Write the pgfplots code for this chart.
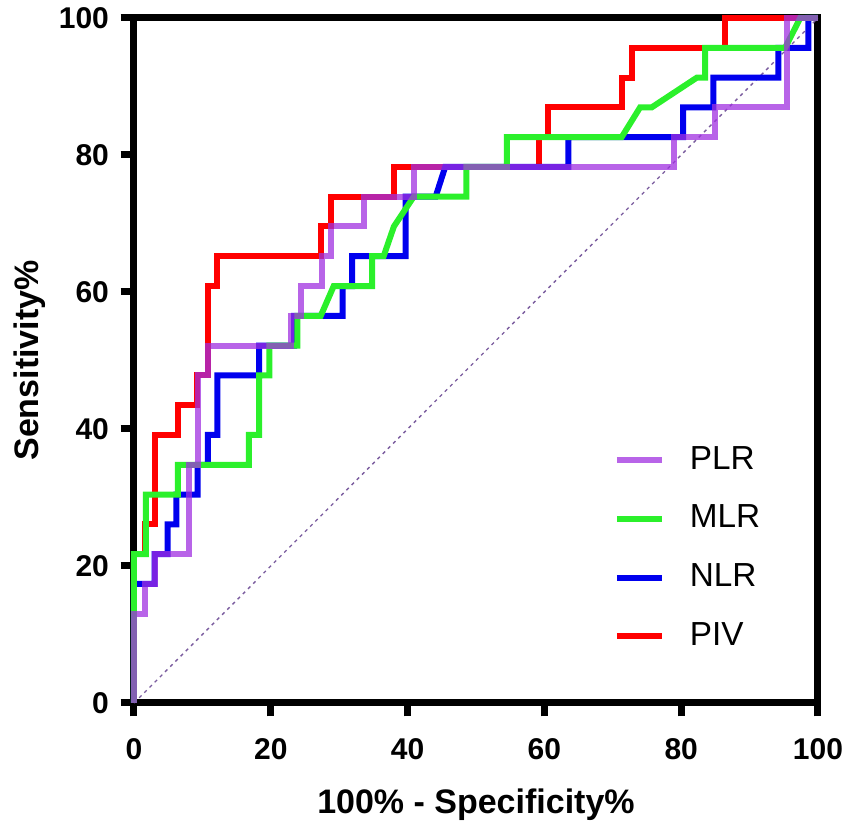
\documentclass[border=0pt]{standalone}
\usepackage{fontspec}
\setmainfont{Liberation Sans}
\usepackage{pgfplots}
\pgfplotsset{compat=1.18}
\definecolor{cPLR}{HTML}{A030E0}
\definecolor{cMLR}{HTML}{2BF02B}
\definecolor{cNLR}{HTML}{0000EE}
\definecolor{cPIV}{HTML}{FF0000}
\definecolor{cDiag}{HTML}{7A5C9E}
\begin{document}
\begin{tikzpicture}
\begin{axis}[
  scale only axis,
  width=205.2pt, height=205.5pt,
  xmin=0, xmax=100, ymin=0, ymax=100,
  xtick={0,20,...,100}, ytick={0,20,...,100},
  xtick pos=bottom, ytick pos=left,
  tick align=outside,
  major tick length=4pt,
  every tick/.style={black, line width=2.1pt},
  axis line style={black, line width=2.1pt},
  /pgf/number format/assume math mode=true,
  tick label style={font=\bfseries\fontsize{9}{10}\selectfont},
  xticklabel style={yshift=-3pt},
  label style={font=\bfseries\fontsize{10.2}{12}\selectfont},
  xlabel={100\% - Specificity\%},
  ylabel={Sensitivity\%},
  xlabel style={yshift=-2pt},
  ylabel style={yshift=-3pt},
  clip=false,
  reverse legend,
  legend cell align=left,
  legend style={at={(rel axis cs:0.686,0.395)}, anchor=north west, draw=none, fill=none,
    font=\fontsize{10}{12}\selectfont, row sep=5.2pt,
    /tikz/every odd column/.append style={column sep=5.5pt}},
  legend image code/.code={\draw[#1, line width=1.8pt] (0pt,0pt) -- (13.5pt,0pt);},
]
\addplot[cDiag, line width=0.4pt, dash pattern=on 1pt off 1.2pt, forget plot] coordinates {(0,0) (100,100)};
\coordinate (bl) at (axis cs:-19.59,-18.54);
\coordinate (tr) at (axis cs:104.68,102.63);

\addplot[cPIV, line width=1.8pt, line join=miter] coordinates {
(0,0) (0,21.74) (1.6,21.74) (1.6,26.09) (3.0,26.09) (3.0,39.13) (6.4,39.13) (6.4,43.48)
(9.2,43.48) (9.2,47.83) (10.8,47.83) (10.8,60.87) (12.2,60.87) (12.2,65.22) (27.3,65.22)
(27.3,69.57) (28.8,69.57) (28.8,73.91) (38.0,73.91) (38.0,78.26) (59.2,78.26) (59.2,82.61)
(60.6,82.61) (60.6,86.96) (71.3,86.96) (71.3,91.30) (72.8,91.30) (72.8,95.65) (86.4,95.65)
(86.4,100) (100,100)};
\addlegendentry{PIV}

\addplot[cNLR, line width=1.8pt, line join=miter] coordinates {
(0,0) (0,17.39) (3.0,17.39) (3.0,21.74) (4.9,21.74) (4.9,26.09) (6.2,26.09) (6.2,30.43)
(9.3,30.43) (9.3,34.78) (10.8,34.78) (10.8,39.13) (12.2,39.13) (12.2,47.83) (18.3,47.83)
(18.3,52.17) (23.4,52.17) (23.4,56.52) (30.5,56.52) (30.5,60.87) (31.9,60.87) (31.9,65.22)
(39.7,65.22) (39.7,73.91) (44.1,73.91) (45.5,78.26) (63.5,78.26) (63.5,82.61) (80.3,82.61)
(80.3,86.96) (84.7,86.96) (84.7,91.30) (94.2,91.30) (94.2,95.65) (98.6,95.65) (98.6,100) (100,100)};
\addlegendentry{NLR}

\addplot[cMLR, line width=1.8pt, line join=miter] coordinates {
(0,0) (0,21.74) (1.75,21.74) (1.75,30.43) (6.4,30.43) (6.4,34.78) (16.8,34.78) (16.8,39.13)
(18.3,39.13) (18.3,47.83) (19.8,47.83) (19.8,52.17) (23.9,52.17) (23.9,56.52) (27.3,56.52)
(29.2,60.87) (34.8,60.87) (34.8,65.22) (36.5,65.22) (38.0,69.57) (40.9,73.91) (48.6,73.91)
(48.6,78.26) (54.5,78.26) (54.5,82.61) (71.3,82.61) (74.0,86.96) (75.7,86.96) (82.3,91.30)
(83.5,91.30) (83.5,95.65) (95.2,95.65) (97.4,100) (100,100)};
\addlegendentry{MLR}

\addplot[cPLR, opacity=0.75, line width=1.8pt, line join=miter] coordinates {
(0,0) (0,13.04) (1.6,13.04) (1.6,17.39) (3.0,17.39) (3.0,21.74) (8.0,21.74) (8.0,34.78)
(9.3,34.78) (9.3,47.83) (10.8,47.83) (10.8,52.17) (22.9,52.17) (22.9,56.52) (24.4,56.52)
(24.4,60.87) (27.5,60.87) (27.5,65.22) (28.8,65.22) (28.8,69.57) (33.6,69.57) (33.6,73.91)
(40.9,73.91) (40.9,78.26) (78.9,78.26) (78.9,82.61) (85.0,82.61) (85.0,86.96) (95.4,86.96)
(95.4,100) (100,100)};
\addlegendentry{PLR}
\end{axis}
\pgfresetboundingbox
\path (bl) rectangle (tr);
\end{tikzpicture}
\end{document}
